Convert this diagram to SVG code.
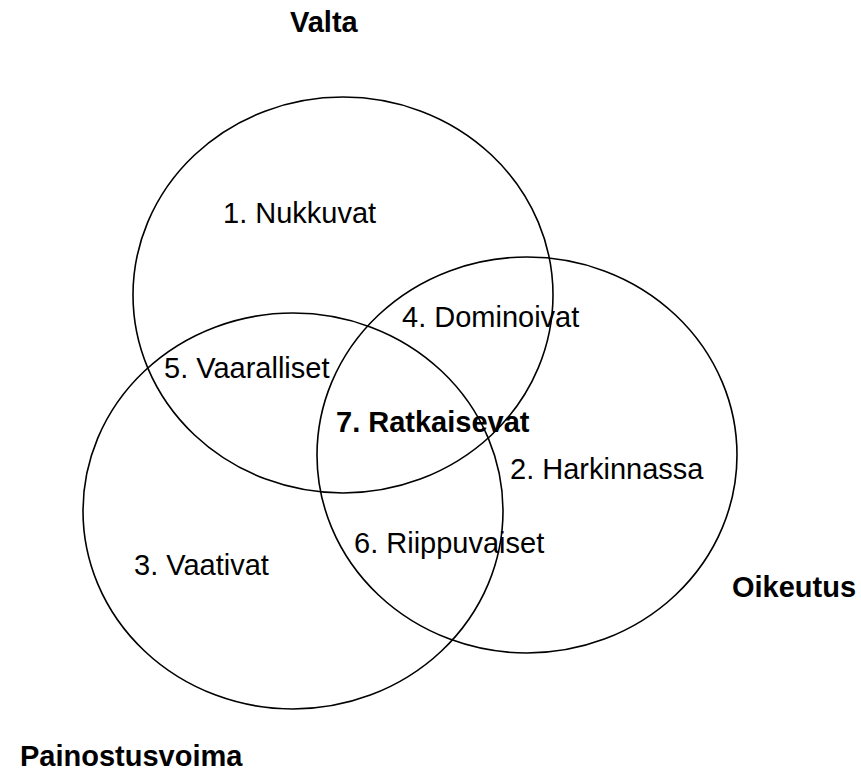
<svg xmlns="http://www.w3.org/2000/svg" width="861" height="772" viewBox="0 0 861 772">
<style>
.c{fill:none;stroke:#000;stroke-width:1.6}
.t{font-family:"Liberation Sans",Arial,sans-serif;font-size:29px;fill:#000}
.b{font-weight:bold}
</style>
<rect width="861" height="772" fill="#fff"/>
<g id="valta"><ellipse class="c" cx="343" cy="295" rx="210" ry="198"/></g>
<g id="oikeutus"><ellipse class="c" cx="527" cy="455" rx="210" ry="198"/></g>
<g id="painostusvoima"><ellipse class="c" cx="293" cy="511" rx="210" ry="198"/></g>
<g id="labels">
<text class="t b" x="290" y="32">Valta</text>
<text class="t b" x="732" y="597">Oikeutus</text>
<text class="t b" x="20" y="766">Painostusvoima</text>
<text class="t" x="223" y="223">1. Nukkuvat</text>
<text class="t" x="402" y="327">4. Dominoivat</text>
<text class="t" x="164" y="378">5. Vaaralliset</text>
<text class="t b" x="336" y="432">7. Ratkaisevat</text>
<text class="t" x="510" y="479">2. Harkinnassa</text>
<text class="t" x="354" y="553">6. Riippuvaiset</text>
<text class="t" x="134" y="575">3. Vaativat</text>
</g>
</svg>
